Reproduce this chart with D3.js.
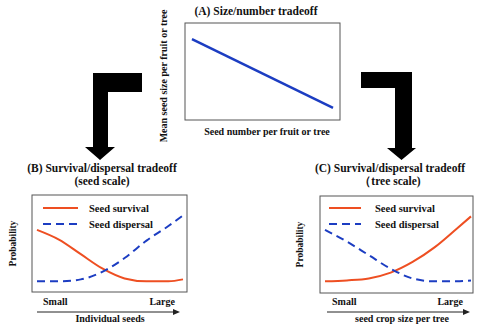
<!DOCTYPE html>
<html>
<head>
<meta charset="utf-8">
<script src="https://cdn.jsdelivr.net/npm/d3@7"></script>
<style>
  html, body { margin: 0; padding: 0; background: #fff; }
  svg { display: block; }
  text { font-family: "Liberation Serif", "Times New Roman", serif; font-weight: bold; fill: #111; }
</style>
</head>
<body>
<svg id="chart" width="478" height="334"></svg>
<script>
// Panel A: size/number tradeoff (straight line)
const seedNumber = [0.045, 0.955];
const meanSeedSize = [0.835, 0.124];

// Shared position along the x axis for panels B and C
const position = [0, 0.15, 0.3, 0.45, 0.6, 0.75, 0.9, 1];

// Panel B: seed scale
const survivalB  = [0.64, 0.54, 0.39, 0.24, 0.14, 0.11, 0.11, 0.13];
const dispersalB = [0.11, 0.11, 0.13, 0.21, 0.35, 0.53, 0.68, 0.79];

// Panel C: tree scale
const survivalC  = [0.12, 0.13, 0.15, 0.21, 0.32, 0.47, 0.66, 0.79];
const dispersalC = [0.65, 0.53, 0.39, 0.25, 0.15, 0.12, 0.12, 0.13];

const legendLabels = ["Seed survival", "Seed dispersal"];
const xEndLabels = ["Small", "Large"];

const RED = "#ee4f22";
const BLUE = "#1c3dc2";

const svg = d3.select("#chart");

// ---------- Panel A ----------
{
  const box = { x0: 185, y0: 23, x1: 340, y1: 120 };
  const x = d3.scaleLinear().domain([0, 1]).range([box.x0, box.x1]);
  const y = d3.scaleLinear().domain([0, 1]).range([box.y1, box.y0]);
  svg.append("rect")
    .attr("x", box.x0).attr("y", box.y0)
    .attr("width", box.x1 - box.x0).attr("height", box.y1 - box.y0)
    .attr("fill", "none").attr("stroke", "#555").attr("stroke-width", 1);
  const pts = seedNumber.map((d, i) => [d, meanSeedSize[i]]);
  svg.append("path")
    .attr("d", d3.line().x(d => x(d[0])).y(d => y(d[1]))(pts))
    .attr("fill", "none").attr("stroke", BLUE).attr("stroke-width", 2.5);
  svg.append("text").attr("x", 256).attr("y", 15).attr("text-anchor", "middle")
    .attr("font-size", 11.5).text("(A) Size/number tradeoff");
  svg.append("text").attr("x", 267).attr("y", 135).attr("text-anchor", "middle")
    .attr("font-size", 10).text("Seed number per fruit or tree");
  svg.append("text")
    .attr("transform", "translate(167,76) rotate(-90)")
    .attr("text-anchor", "middle").attr("font-size", 10)
    .text("Mean seed size per fruit or tree");
}

// ---------- Arrows ----------
svg.append("path")
  .attr("d", "M93,73 H142 V92 H108 V147 H115 L100,160 L85,147 H93 Z")
  .attr("fill", "#000");
svg.append("path")
  .attr("d", "M361,72 H412 V148 H416 L401.5,160 L387,148 H395 V88 H361 Z")
  .attr("fill", "#000");

// ---------- Panels B and C ----------
function drawPanel(opts) {
  const g = svg.append("g");
  const box = opts.box;
  const x = d3.scaleLinear().domain([0, 1]).range(opts.xRange);
  const y = d3.scaleLinear().domain([0, 1]).range([box.y1, box.y0]);

  g.append("rect")
    .attr("x", box.x0).attr("y", box.y0)
    .attr("width", box.x1 - box.x0).attr("height", box.y1 - box.y0)
    .attr("fill", "none").attr("stroke", "#555").attr("stroke-width", 1);

  const line = d3.line().x(d => x(d[0])).y(d => y(d[1])).curve(d3.curveMonotoneX);
  g.append("path")
    .attr("d", line(position.map((p, i) => [p, opts.survival[i]])))
    .attr("fill", "none").attr("stroke", RED).attr("stroke-width", 2);
  g.append("path")
    .attr("d", line(position.map((p, i) => [p, opts.dispersal[i]])))
    .attr("fill", "none").attr("stroke", BLUE).attr("stroke-width", 2)
    .attr("stroke-dasharray", "8,5");

  // legend
  const lg = opts.legend;
  g.append("line").attr("x1", lg.x0).attr("x2", lg.x1).attr("y1", lg.y).attr("y2", lg.y)
    .attr("stroke", RED).attr("stroke-width", 2);
  g.append("line").attr("x1", lg.x0).attr("x2", lg.x1).attr("y1", lg.y + 16).attr("y2", lg.y + 16)
    .attr("stroke", BLUE).attr("stroke-width", 2).attr("stroke-dasharray", "8,5");
  legendLabels.forEach((t, i) => {
    g.append("text").attr("x", lg.tx).attr("y", lg.y + 16 * i + 3.5)
      .attr("font-size", 10.5).text(t);
  });

  // titles
  opts.title.forEach((t, i) => {
    g.append("text").attr("x", opts.titleX).attr("y", 172 + 13 * i)
      .attr("text-anchor", "middle").attr("font-size", 11.5).text(t);
  });

  // axis ends
  g.append("text").attr("x", opts.smallX).attr("y", 305).attr("font-size", 10).text(xEndLabels[0]);
  g.append("text").attr("x", opts.largeX).attr("y", 305).attr("text-anchor", "end")
    .attr("font-size", 10).text(xEndLabels[1]);

  // axis arrow
  g.append("line").attr("x1", opts.arrow[0]).attr("x2", opts.arrow[1] - 4)
    .attr("y1", 312).attr("y2", 312).attr("stroke", "#222").attr("stroke-width", 1);
  g.append("path")
    .attr("d", `M${opts.arrow[1]},312 l-7,-3 v6 z`).attr("fill", "#222");

  g.append("text").attr("x", opts.xLabelX).attr("y", 322).attr("text-anchor", "middle")
    .attr("font-size", 10).text(opts.xLabel);
  g.append("text")
    .attr("transform", `translate(${opts.yLabelX},${(box.y0 + box.y1) / 2}) rotate(-90)`)
    .attr("text-anchor", "middle").attr("font-size", 9.5).text("Probability");
}

drawPanel({
  box: { x0: 32, y0: 195, x1: 187, y1: 292 },
  xRange: [37, 183],
  survival: survivalB, dispersal: dispersalB,
  legend: { x0: 43, x1: 78, y: 208, tx: 89 },
  title: ["(B) Survival/dispersal tradeoff", "(seed scale)"],
  titleX: 102,
  smallX: 43, largeX: 175,
  arrow: [37, 180],
  xLabel: "Individual seeds", xLabelX: 110,
  yLabelX: 16
});

drawPanel({
  box: { x0: 320, y0: 196, x1: 473, y1: 293 },
  xRange: [325, 471],
  survival: survivalC, dispersal: dispersalC,
  legend: { x0: 329, x1: 361, y: 208, tx: 375 },
  title: ["(C) Survival/dispersal tradeoff", "\uFF08tree scale)"],
  titleX: 390,
  smallX: 332, largeX: 463,
  arrow: [327, 470],
  xLabel: "seed crop size per tree", xLabelX: 402,
  yLabelX: 303
});
</script>
</body>
</html>
